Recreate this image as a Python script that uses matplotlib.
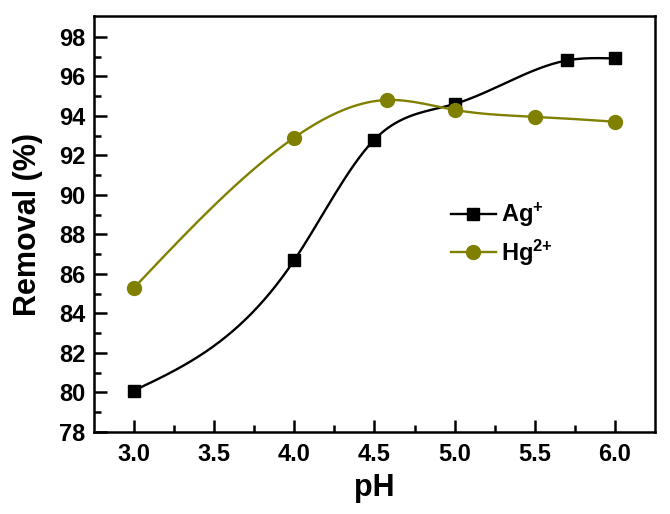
import numpy as np
import matplotlib
matplotlib.use('Agg')
import matplotlib.pyplot as plt

# data
ph_ag = [3.0, 4.0, 4.5, 5.0, 5.7, 6.0]
removal_ag = [80.1, 86.7, 92.8, 94.6, 96.8, 96.9]
ph_hg = [3.0, 4.0, 4.58, 5.0, 5.5, 6.0]
removal_hg = [85.3, 92.9, 94.8, 94.3, 93.95, 93.7]

x_ticks = [3.0, 3.5, 4.0, 4.5, 5.0, 5.5, 6.0]
y_ticks = [78, 80, 82, 84, 86, 88, 90, 92, 94, 96, 98]

olive = '#808000'


def spline(x, y, n=300):
	# natural cubic spline, like Origin's smooth connect
	x = np.asarray(x, float)
	y = np.asarray(y, float)
	k = len(x)
	h = np.diff(x)
	A = np.zeros((k, k))
	b = np.zeros(k)
	A[0, 0] = A[-1, -1] = 1
	for i in range(1, k - 1):
		A[i, i - 1] = h[i - 1]
		A[i, i] = 2 * (h[i - 1] + h[i])
		A[i, i + 1] = h[i]
		b[i] = 6 * ((y[i + 1] - y[i]) / h[i] - (y[i] - y[i - 1]) / h[i - 1])
	m = np.linalg.solve(A, b)
	xs = np.linspace(x[0], x[-1], n)
	idx = np.clip(np.searchsorted(x, xs) - 1, 0, k - 2)
	x0, x1 = x[idx], x[idx + 1]
	hh = x1 - x0
	t0, t1 = x1 - xs, xs - x0
	ys = (m[idx] * t0**3 + m[idx + 1] * t1**3) / (6 * hh) \
		+ (y[idx] / hh - m[idx] * hh / 6) * t0 \
		+ (y[idx + 1] / hh - m[idx + 1] * hh / 6) * t1
	return xs, ys


plt.rcParams['font.family'] = 'Liberation Sans'
plt.rcParams['font.weight'] = 'bold'
plt.rcParams['mathtext.default'] = 'regular'

fig = plt.figure(figsize=(6.7, 5.14), dpi=100)
ax = fig.add_axes([0.1403, 0.1595, 0.8373, 0.8094])

xs, ys = spline(ph_ag, removal_ag)
ax.plot(xs, ys, color='black', lw=1.7)
xs, ys = spline(ph_hg, removal_hg)
ax.plot(xs, ys, color=olive, lw=1.7)
ax.plot(ph_ag, removal_ag, 's', color='black', ms=9)
ax.plot(ph_hg, removal_hg, 'o', color=olive, ms=10)

# legend proxies
ax.plot([], [], '-s', color='black', ms=9, lw=1.7, label='Ag$^{+}$')
ax.plot([], [], '-o', color=olive, ms=10, lw=1.7, label='Hg$^{2{+}}$')

ax.set_xlim(2.75, 6.25)
ax.set_ylim(78, 99.05)
ax.set_xticks(x_ticks)
ax.set_xticklabels([f'{v:.1f}' for v in x_ticks])
ax.set_yticks(y_ticks)
ax.set_xticks(np.arange(3.25, 6.0, 0.5), minor=True)
ax.set_yticks(np.arange(79, 99, 2), minor=True)

ax.tick_params(which='both', direction='in', top=False, right=False, labelsize=17, width=1.8)
ax.tick_params(axis='y', which='major', length=9, pad=6)
ax.tick_params(axis='x', which='major', length=9, pad=8)
ax.tick_params(which='minor', length=5)
for s in ax.spines.values():
	s.set_linewidth(1.8)

ax.set_xlabel('pH', fontsize=22, fontweight='bold', labelpad=5)
ax.set_ylabel('Removal (%)', fontsize=22, fontweight='bold', labelpad=12)

leg = ax.legend(loc='center left', bbox_to_anchor=(0.655, 0.544), bbox_transform=fig.transFigure,
	frameon=False, fontsize=17, handlelength=1.9, handletextpad=0.25, labelspacing=0.35, borderpad=0)

fig.savefig('out.png', dpi=100)
